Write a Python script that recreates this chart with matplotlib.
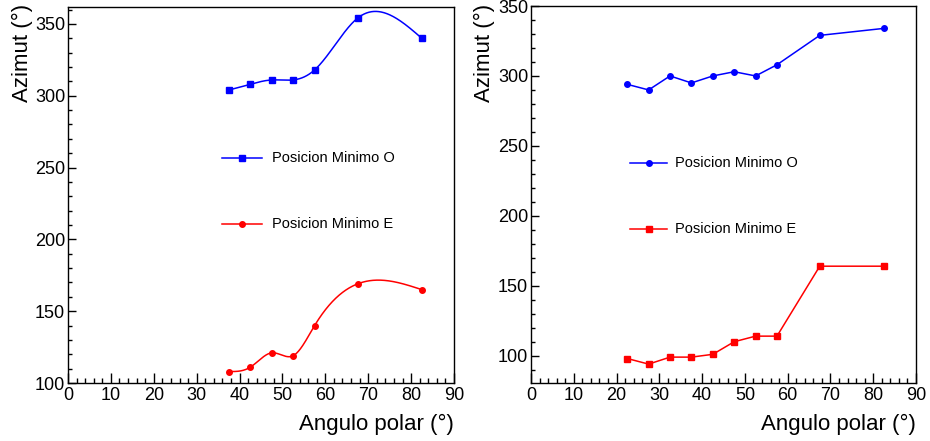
import numpy as np
import matplotlib
matplotlib.use('Agg')
import matplotlib.pyplot as plt
from matplotlib.ticker import MultipleLocator
from matplotlib.lines import Line2D

plt.rcParams['font.family'] = ['Liberation Sans', 'DejaVu Sans']

# ---------------------
# DATA
# ---------------------
# left panel (smooth curves)
ang_left = [37.5, 42.5, 47.5, 52.5, 57.5, 67.5, 82.5]
min_o_left = [304, 308, 311, 311, 318, 354, 340]
min_e_left = [108, 111, 121, 119, 140, 169, 165]

# right panel (straight lines)
ang_right = [22.5, 27.5, 32.5, 37.5, 42.5, 47.5, 52.5, 57.5, 67.5, 82.5]
min_o_right = [294, 290, 300, 295, 300, 303, 300, 308, 329, 334]
min_e_right = [98, 94, 99, 99, 101, 110, 114, 114, 164, 164]

label_o = 'Posicion Minimo O'
label_e = 'Posicion Minimo E'
xlabel = 'Angulo polar (°)'
ylabel = 'Azimut (°)'


def natural_spline(x, y, n=400):
    # plain natural cubic spline, similar look to ROOT's "C" option
    x = np.asarray(x, float)
    y = np.asarray(y, float)
    k = len(x)
    h = np.diff(x)
    A = np.zeros((k, k))
    b = np.zeros(k)
    A[0, 0] = 1
    A[-1, -1] = 1
    for i in range(1, k - 1):
        A[i, i - 1] = h[i - 1]
        A[i, i] = 2 * (h[i - 1] + h[i])
        A[i, i + 1] = h[i]
        b[i] = 3 * ((y[i + 1] - y[i]) / h[i] - (y[i] - y[i - 1]) / h[i - 1])
    c = np.linalg.solve(A, b)
    xs = np.linspace(x[0], x[-1], n)
    ys = np.empty_like(xs)
    for j, xv in enumerate(xs):
        i = min(np.searchsorted(x, xv, side='right') - 1, k - 2)
        dx = xv - x[i]
        bb = (y[i + 1] - y[i]) / h[i] - h[i] * (2 * c[i] + c[i + 1]) / 3
        dd = (c[i + 1] - c[i]) / (3 * h[i])
        ys[j] = y[i] + bb * dx + c[i] * dx ** 2 + dd * dx ** 3
    return xs, ys


W, H = 930, 441
fig = plt.figure(figsize=(W / 100, H / 100), dpi=100)


def px_axes(x0, x1, ytop, ybot):
    return fig.add_axes([x0 / W, 1 - ybot / H, (x1 - x0) / W, (ybot - ytop) / H])


def style(ax, ylim):
    ax.set_xlim(0, 90)
    ax.set_ylim(*ylim)
    ax.xaxis.set_major_locator(MultipleLocator(10))
    ax.xaxis.set_minor_locator(MultipleLocator(2))
    ax.yaxis.set_major_locator(MultipleLocator(50))
    ax.yaxis.set_minor_locator(MultipleLocator(10))
    ax.tick_params(which='both', direction='in', top=False, right=False,
                   labelsize=13, width=1, color='black')
    ax.tick_params(axis='x', which='major', length=7.5, pad=3)
    ax.tick_params(axis='x', which='minor', length=3.6)
    ax.tick_params(axis='y', which='major', length=6, pad=2)
    ax.tick_params(axis='y', which='minor', length=3)
    for s in ax.spines.values():
        s.set_linewidth(1)
        s.set_color('black')


# ---------------------
# LEFT PANEL
# ---------------------
ax1 = px_axes(68, 454, 7, 383)
style(ax1, (100, 361.8))
xs, ys = natural_spline(ang_left, min_o_left)
ax1.plot(xs, ys, color='blue', lw=1.1)
ax1.plot(ang_left, min_o_left, 's', color='blue', ms=5)
xs, ys = natural_spline(ang_left, min_e_left)
ax1.plot(xs, ys, color='red', lw=1.1)
ax1.plot(ang_left, min_e_left, 'o', color='red', ms=4)

# ---------------------
# RIGHT PANEL
# ---------------------
ax2 = px_axes(531, 916, 6, 383)
style(ax2, (80.5, 350))
ax2.plot(ang_right, min_o_right, '-o', color='blue', lw=1.1, ms=4)
ax2.plot(ang_right, min_e_right, '-s', color='red', lw=1.1, ms=5)

# legends (drawn by hand at ROOT-like positions)
legend_items = [
    # x_line0, x_line1, y_o, y_e, text_x, marker_o, marker_e
    (222, 262, 158, 224, 272, 's', 'o'),
    (630, 667, 163, 229, 675, 'o', 's'),
]
for x0, x1, yo, ye, tx, mo, me in legend_items:
    for yy, col, mk, lab in [(yo, 'blue', mo, label_o), (ye, 'red', me, label_e)]:
        fig.add_artist(Line2D([x0 / W, x1 / W], [1 - yy / H, 1 - yy / H],
                              color=col, lw=1.1, transform=fig.transFigure))
        fig.add_artist(Line2D([(x0 + x1) / 2 / W], [1 - yy / H], color=col,
                              marker=mk, ms=5 if mk == 's' else 4,
                              transform=fig.transFigure))
        fig.text(tx / W, 1 - yy / H, lab, fontsize=10.5, va='center', ha='left')

# axis titles
for xr, ytx in [(454, 22), (916, 484)]:
    fig.text(xr / W, 1 - 424 / H, xlabel, fontsize=16, ha='right', va='center')
    fig.text(ytx / W, 1 - 4 / H, ylabel, fontsize=16, rotation=90,
             ha='center', va='top')

fig.savefig('out.png', dpi=100)
